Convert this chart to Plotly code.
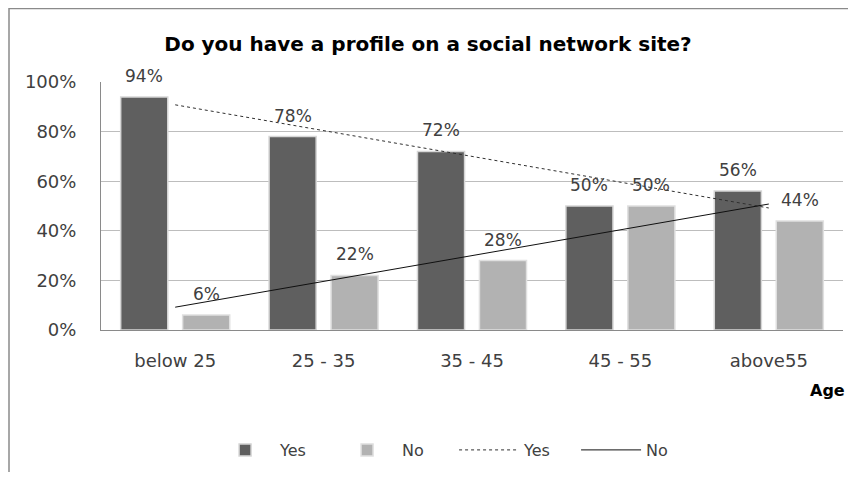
import numpy as np
import plotly.graph_objects as go

categories = ["below 25", "25 - 35", "35 - 45", "45 - 55", "above55"]
yes_values = [94, 78, 72, 50, 56]
no_values = [6, 22, 28, 50, 44]
y_ticks = [0, 20, 40, 60, 80, 100]
y_tick_labels = ["0%", "20%", "40%", "60%", "80%", "100%"]

# linear trendlines (as in Excel)
idx = np.arange(1, len(categories) + 1)
yes_fit = np.polyval(np.polyfit(idx, yes_values, 1), idx)
no_fit = np.polyval(np.polyfit(idx, no_values, 1), idx)

LABEL_FONT = "DejaVu Sans"
TXT = "#404040"

fig = go.Figure()
fig.add_trace(go.Bar(name="Yes", x=categories, y=yes_values,
                     marker=dict(color="#5f5f5f", line=dict(color="#d6d6d6", width=1.5))))
fig.add_trace(go.Bar(name="No", x=categories, y=no_values,
                     marker=dict(color="#b2b2b2", line=dict(color="#e0e0e0", width=1.5))))
fig.add_trace(go.Scatter(name="Yes", x=categories, y=yes_fit, mode="lines",
                         line=dict(color="#303030", width=1, dash="dot")))
fig.add_trace(go.Scatter(name="No", x=categories, y=no_fit, mode="lines",
                         line=dict(color="#101010", width=1)))

annotations = []
for c, v in zip(categories, yes_values):
    annotations.append(dict(x=c, y=v, xref="x", yref="y", text=f"{v}%", showarrow=False,
                            xshift=-31, yshift=21, font=dict(family=LABEL_FONT, size=17, color=TXT)))
for c, v in zip(categories, no_values):
    annotations.append(dict(x=c, y=v, xref="x", yref="y", text=f"{v}%", showarrow=False,
                            xshift=31, yshift=21, font=dict(family=LABEL_FONT, size=17, color=TXT)))

# page body has an 8px margin: figure is 840x464 so the page fits the 856x480 window
W, H = 840, 464
L, T = 93, 74
PW, PH = 742, 248
fig.update_layout(
    width=W, height=H,
    margin=dict(l=L, r=W - L - PW, t=T, b=H - T - PH),
    paper_bgcolor="white", plot_bgcolor="white",
    barmode="group", bargap=0.165, bargroupgap=0.24,
    title=dict(text="<b>Do you have a profile on a social network site?</b>",
               x=(428 - 8) / W, xanchor="center", y=1 - 36 / H, yanchor="middle",
               font=dict(family="DejaVu Sans", size=20, color="#000000")),
    showlegend=True,
    legend=dict(orientation="h", x=0.147, xanchor="left", y=-(450 - 82 - PH) / PH, yanchor="middle",
                font=dict(family=LABEL_FONT, size=16, color=TXT), traceorder="normal",
                itemwidth=60, entrywidth=47),
    annotations=annotations + [
        dict(x=(W - 1 - L) / PW, y=-(390 - 82 - PH) / PH, xref="paper", yref="paper",
             text="<b>Age</b>", showarrow=False, xanchor="right", yanchor="middle",
             font=dict(family=LABEL_FONT, size=16, color="#000000"))],
    shapes=[dict(type="rect", xref="paper", yref="paper", x0=-(L - 1) / PW, x1=1.1,
                 y0=-0.8, y1=(PH + T - 0.5) / PH, line=dict(color="#8a8a8a", width=1.5),
                 layer="below")],
)
fig.update_yaxes(range=[0, 100], tickvals=y_ticks, ticktext=y_tick_labels,
                 showgrid=True, gridcolor="#bdbdbd", gridwidth=1,
                 showline=True, linecolor="#8a8a8a", linewidth=1,
                 ticks="", ticklabelstandoff=20, zeroline=False,
                 tickfont=dict(family=LABEL_FONT, size=18, color=TXT), fixedrange=True)
fig.update_xaxes(showline=True, linecolor="#8a8a8a", linewidth=1, ticks="",
                 ticklabelstandoff=14, showgrid=False,
                 tickfont=dict(family=LABEL_FONT, size=18, color=TXT), fixedrange=True)

fig.write_html("out.html")
